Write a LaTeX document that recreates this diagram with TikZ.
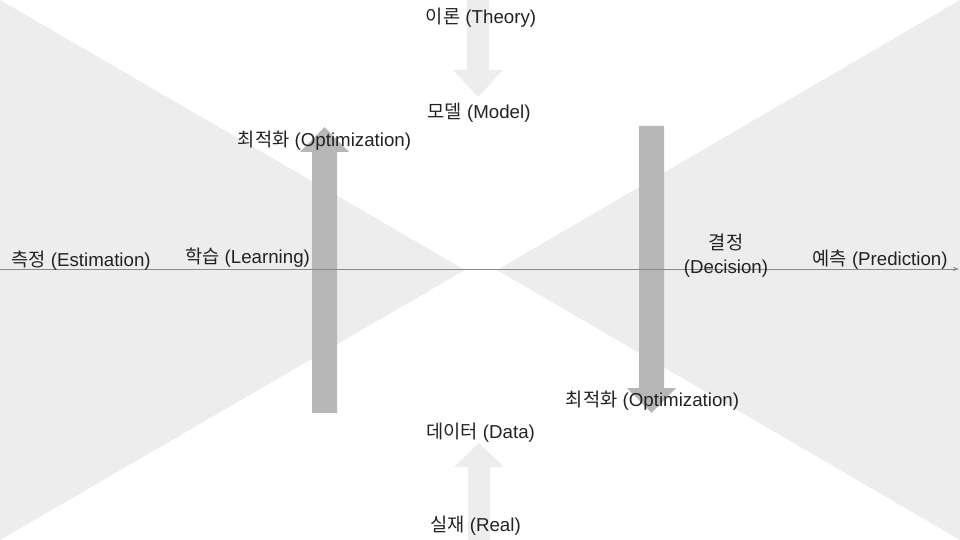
\documentclass[tikz,border=0pt]{standalone}
\usepackage{fontspec}
\setmainfont{Liberation Sans}
\newfontfamily\kr{Noto Sans CJK KR}
\usetikzlibrary{arrows.meta}
\definecolor{tri}{HTML}{EDEDED}
\definecolor{lightarr}{HTML}{EDEDED}
\definecolor{bigarr}{HTML}{B7B7B7}
\definecolor{axis}{HTML}{8A8A8A}
\definecolor{txt}{HTML}{222222}
\tikzset{
  lbl/.style={inner sep=0pt, anchor=base, text=txt, font=\fontsize{18.7}{23.5}\selectfont},
  tri/.style={fill=tri, draw=none},
  lightarrow/.style={fill=lightarr, draw=none},
  bigarrow/.style={fill=bigarr, draw=none},
  axisline/.style={draw=axis, line width=0.9pt, -{Stealth[length=6pt,width=4pt]}}
}
\begin{document}
\begin{tikzpicture}[x=1pt,y=-1pt]
\useasboundingbox (0,0) rectangle (960,540);
% background triangles
\fill[tri] (0,0) -- (465,270) -- (0,540) -- cycle;
\fill[tri] (960,0) -- (497,270) -- (960,540) -- cycle;
% light arrows
\fill[lightarrow] (467,0) -- (489,0) -- (489,70) -- (503,70) -- (478,97) -- (453,70) -- (467,70) -- cycle;
\fill[lightarrow] (468,540) -- (490,540) -- (490,467) -- (504,467) -- (479,443) -- (454,467) -- (468,467) -- cycle;
% big arrows
\fill[bigarrow] (312,413) -- (337,413) -- (337,152) -- (349,152) -- (324.5,127) -- (300,152) -- (312,152) -- cycle;
\fill[bigarrow] (639,126) -- (664,126) -- (664,388) -- (676,388) -- (651.5,413) -- (627,388) -- (639,388) -- cycle;
% axis
\coordinate (west) at (0,269);
\coordinate (east) at (959,269);
\draw[axisline] (west) -- (east);
% labels
\node[lbl] (theory) at (481,24) {{\kr 이론} (Theory)};
\node[lbl] (model) at (479,119) {{\kr 모델} (Model)};
\node[lbl] (opt1) at (324.5,147) {{\kr 최적화} (Optimization)};
\node[lbl] (est) at (81,266) {{\kr 측정} (Estimation)};
\node[lbl] (learn) at (247.5,263) {{\kr 학습} (Learning)};
\node[lbl, align=center] (dec) at (726,273) {{\kr 결정}\\(Decision)};
\node[lbl] (pred) at (880,265) {{\kr 예측} (Prediction)};
\node[lbl] (opt2) at (652.5,406) {{\kr 최적화} (Optimization)};
\node[lbl] (data) at (480.5,438) {{\kr 데이터} (Data)};
\node[lbl] (real) at (475.5,531) {{\kr 실재} (Real)};
\end{tikzpicture}
\end{document}
